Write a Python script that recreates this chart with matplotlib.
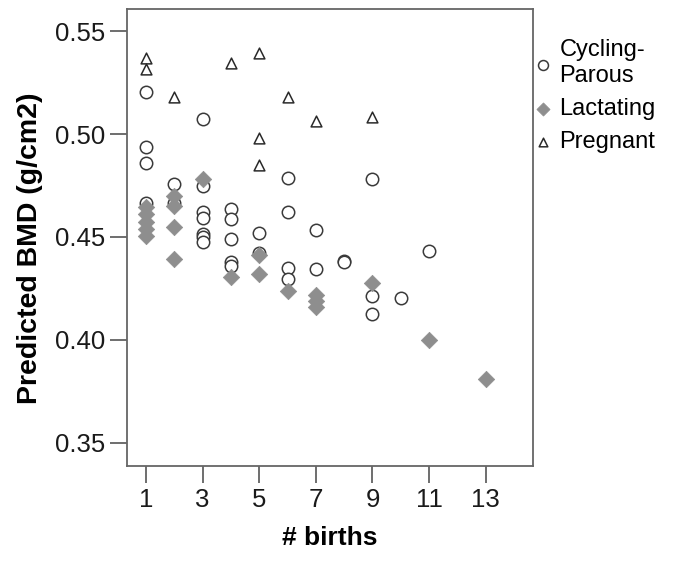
import matplotlib
matplotlib.use("Agg")
import matplotlib.pyplot as plt

plt.rcParams['font.family'] = ['Liberation Sans', 'DejaVu Sans']

# Cycling-Parous (open circles)
cyc_x = [1, 1, 1, 1,
         2, 2,
         3, 3, 3, 3, 3, 3, 3,
         4, 4, 4, 4, 4,
         5, 5,
         6, 6, 6, 6,
         7, 7,
         8, 8,
         9, 9, 9,
         10,
         11]
cyc_y = [0.5205, 0.4938, 0.4861, 0.4663,
         0.4755, 0.4665,
         0.5073, 0.4750, 0.4620, 0.4590, 0.4515, 0.4500, 0.4478,
         0.4634, 0.4586, 0.4489, 0.4380, 0.4360,
         0.4521, 0.4420,
         0.4785, 0.4620, 0.4348, 0.4297,
         0.4534, 0.4343,
         0.4385, 0.4378,
         0.4780, 0.4214, 0.4126,
         0.4202,
         0.4433]

# Lactating (grey diamonds)
lac_x = [1, 1, 1, 1, 1,
         2, 2, 2, 2,
         3,
         4,
         5, 5,
         6,
         7, 7, 7,
         9,
         11,
         13]
lac_y = [0.4645, 0.4610, 0.4575, 0.4540, 0.4505,
         0.4700, 0.4650, 0.4550, 0.4395,
         0.4780,
         0.4307,
         0.4413, 0.4320,
         0.4238,
         0.4218, 0.4190, 0.4162,
         0.4275,
         0.4000,
         0.3811]

# Pregnant (open triangles)
preg_x = [1, 1, 2, 4, 5, 5, 5, 6, 7, 9]
preg_y = [0.5370, 0.5314, 0.5180, 0.5343, 0.5392, 0.4979, 0.4850, 0.5180, 0.5065, 0.5083]

xticks = [1, 3, 5, 7, 9, 11, 13]
yticks = [0.35, 0.40, 0.45, 0.50, 0.55]

fig = plt.figure(figsize=(6.74, 5.63), dpi=100)
ax = fig.add_axes([0.1884, 0.1723, 0.6024, 0.8117])

ax.scatter(cyc_x, cyc_y, marker='o', s=80, facecolors='white',
           edgecolors='#3a3a3a', linewidths=1.1, label='Cycling-\nParous', zorder=3)
ax.scatter(lac_x, lac_y, marker='D', s=70, color='#8e8e8e',
           edgecolors='#8e8e8e', linewidths=0.5, label='Lactating', zorder=4)
ax.scatter(preg_x, preg_y, marker='^', s=60, facecolors='white',
           edgecolors='#2a2a2a', linewidths=1.1, label='Pregnant', zorder=5)

ax.set_xlim(0.33, 14.67)
ax.set_ylim(0.3388, 0.5607)
ax.set_xticks(xticks)
ax.set_xticklabels([str(t) for t in xticks])
ax.set_yticks(yticks)
ax.set_yticklabels(['%.2f' % t for t in yticks])

for sp in ax.spines.values():
    sp.set_color('#666666')
    sp.set_linewidth(1.3)
ax.tick_params(direction='out', length=12, width=1.2, color='#555555',
               labelsize=18.5, labelcolor='#1a1a1a', pad=4)

ax.set_xlabel('# births', fontsize=19, fontweight='bold', labelpad=10)
ax.set_ylabel('Predicted BMD (g/cm2)', fontsize=20.5, fontweight='bold')
ax.yaxis.set_label_coords(-0.207, 0.477)

ax.legend(loc='upper left', bbox_to_anchor=(0.96, 0.965), frameon=False,
          fontsize=17, handletextpad=0.2, borderaxespad=0.2, labelspacing=0.48,
          markerscale=0.8, handlelength=1.0)

fig.savefig('out.png', dpi=100)
